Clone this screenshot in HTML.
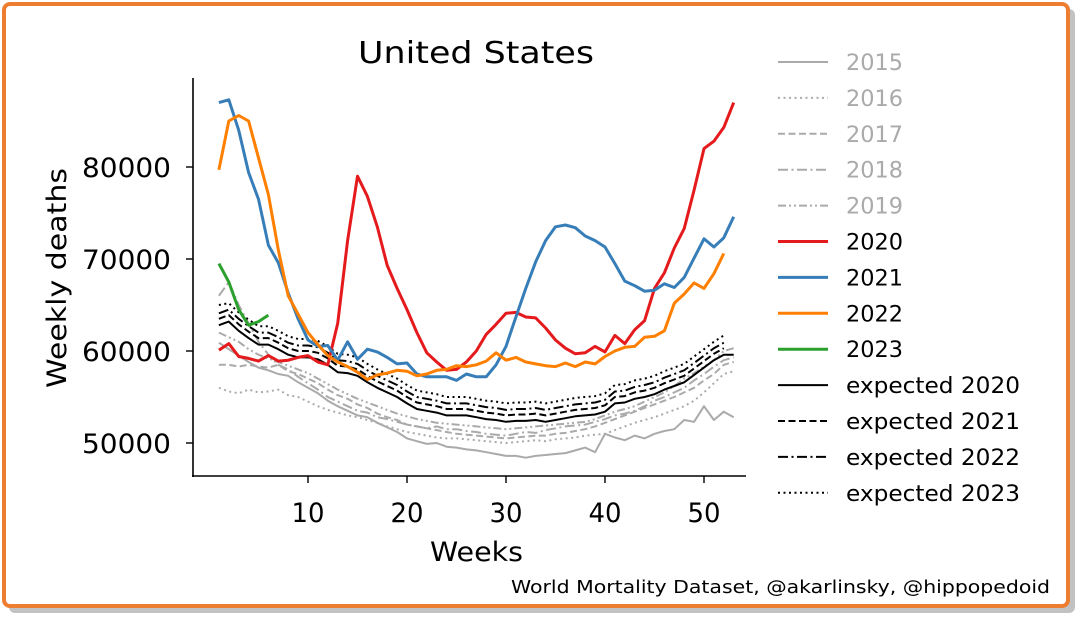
<!DOCTYPE html>
<html><head><meta charset="utf-8"><style>
html,body{margin:0;padding:0;background:#fff;}
body{width:1080px;height:625px;overflow:hidden;font-family:"DejaVu Sans","Liberation Sans",sans-serif;}
svg text{font-family:"DejaVu Sans","Liberation Sans",sans-serif;}
</style></head><body>
<svg id="chart" width="1080" height="625" xmlns="http://www.w3.org/2000/svg">
<rect x="9" y="9" width="1066" height="604" rx="6" fill="#9a9a9a" opacity="0.6"/>
<rect x="4" y="4" width="1064" height="602" rx="6" fill="#fff" stroke="#ed7d31" stroke-width="4"/>
<text x="358" y="63" font-size="30" textLength="236" lengthAdjust="spacingAndGlyphs" fill="#000">United States</text>
<text transform="translate(66,388) rotate(-90)" font-size="27" textLength="220" lengthAdjust="spacingAndGlyphs" fill="#000">Weekly deaths</text>
<text x="430" y="561" font-size="27" textLength="93" lengthAdjust="spacingAndGlyphs" fill="#000">Weeks</text>
<text x="511" y="593" font-size="18" textLength="539" lengthAdjust="spacingAndGlyphs" fill="#000">World Mortality Dataset, @akarlinsky, @hippopedoid</text>
<g id="plot"></g>
<g id="legend"></g>
</svg>
<script>
const weeks53 = Array.from({length:53},(_,i)=>i+1);
const xTicks = [10,20,30,40,50];
const yTicks = [50000,60000,70000,80000];
const yTickLabels = ["50000","60000","70000","80000"];
const s2015 = [60.9,60.2,59.5,58.8,58.2,57.9,57.5,57.3,56.6,56.0,55.4,54.6,54.0,53.5,53.0,52.8,52.2,51.7,51.2,50.5,50.2,49.9,50.0,49.6,49.5,49.3,49.2,49.0,48.8,48.6,48.6,48.4,48.6,48.7,48.8,48.9,49.2,49.5,49.0,51.0,50.6,50.3,50.8,50.5,51.0,51.3,51.5,52.5,52.3,54.0,52.5,53.4,52.8];
const s2016 = [56.0,55.6,55.4,55.8,55.5,55.6,55.8,55.2,55.0,54.5,54.0,53.6,53.3,53.0,52.8,52.5,52.2,51.8,51.5,51.2,51.0,50.8,50.6,50.5,50.5,50.4,50.3,50.2,50.1,50.0,50.1,50.2,50.3,50.2,50.4,50.5,50.6,50.8,50.9,51.0,51.4,51.8,52.2,52.5,52.8,53.2,53.6,54.0,54.6,55.5,56.5,57.5,57.8];
const s2017 = [58.5,58.5,58.3,58.5,58.3,58.2,58.5,57.8,57.5,57.0,56.5,55.8,55.2,54.8,54.2,53.8,53.2,52.8,52.5,52.0,51.8,51.6,51.4,51.2,51.0,50.9,50.8,50.7,50.6,50.5,50.6,50.7,50.8,50.8,51.0,51.1,51.3,51.5,51.8,52.2,52.6,53.0,53.4,53.8,54.2,54.6,55.0,55.5,56.0,56.8,57.5,58.5,58.8];
const s2018 = [66.0,67.5,65.0,63.0,61.0,59.6,58.5,58.0,57.2,56.5,55.8,55.0,54.5,54.0,53.5,53.3,52.8,52.6,52.3,52.0,51.8,51.6,51.8,51.5,51.5,51.3,51.2,51.0,50.9,50.8,51.0,51.2,51.1,51.4,51.6,51.8,51.9,52.0,52.3,52.6,53.0,53.2,53.5,54.0,54.6,55.0,55.5,56.0,56.8,57.5,58.3,59.0,59.3];
const s2019 = [62.0,61.5,61.0,60.2,59.6,59.2,58.8,58.4,58.0,57.6,57.0,56.4,55.8,55.3,54.8,54.4,54.0,53.6,53.2,52.9,52.6,52.4,52.2,52.1,52.0,51.9,51.8,51.7,51.6,51.5,51.6,51.7,51.8,51.9,52.0,52.1,52.2,52.3,52.6,53.0,53.4,53.7,54.0,54.5,55.0,55.5,56.2,57.0,57.6,58.3,59.0,60.0,60.3];
const s2020 = [60.1,60.8,59.4,59.2,58.9,59.5,58.9,59.0,59.3,59.5,58.8,58.5,63.0,72.0,79.0,76.8,73.5,69.3,66.8,64.5,62.0,59.8,58.8,57.9,58.0,58.8,60.0,61.8,62.9,64.1,64.2,63.7,63.6,62.5,61.2,60.3,59.7,59.8,60.5,59.9,61.7,60.8,62.3,63.3,66.8,68.5,71.2,73.3,77.5,82.0,82.8,84.3,87.0];
const s2021 = [87.0,87.3,84.0,79.4,76.5,71.5,69.6,66.3,63.5,61.2,60.5,60.6,59.0,61.0,59.1,60.2,59.9,59.3,58.6,58.7,57.5,57.2,57.2,57.2,56.8,57.5,57.2,57.2,58.5,60.5,63.7,66.8,69.7,72.0,73.5,73.7,73.4,72.5,72.0,71.3,69.5,67.6,67.1,66.5,66.6,67.3,66.9,68.0,70.1,72.2,71.3,72.3,74.6];
const s2022 = [79.7,85.0,85.6,85.0,81.0,77.0,71.0,66.0,64.0,62.0,60.7,59.5,58.8,58.3,57.7,56.9,57.4,57.6,57.9,57.8,57.3,57.5,57.9,58.0,58.4,58.3,58.5,58.9,59.8,59.0,59.3,58.8,58.6,58.4,58.3,58.7,58.3,58.8,58.6,59.4,60.0,60.4,60.5,61.5,61.6,62.2,65.2,66.2,67.4,66.8,68.4,70.6];
const s2023 = [69.5,67.5,64.5,62.8,63.2,63.9];
const e2020 = [62.8,63.2,62.2,61.4,60.7,60.7,60.2,59.6,59.3,59.3,59.1,58.5,57.7,57.6,57.3,56.6,56.0,55.5,55.0,54.3,53.7,53.5,53.3,53.0,53.0,53.0,52.8,52.6,52.5,52.3,52.4,52.4,52.5,52.3,52.5,52.7,52.9,53.0,53.1,53.4,54.3,54.4,54.8,55.0,55.3,55.8,56.2,56.6,57.4,58.2,59.0,59.6,59.6];
const e2021 = [63.5,63.9,62.9,62.1,61.4,61.4,60.9,60.3,60.0,60.0,59.8,59.2,58.4,58.3,58.0,57.3,56.7,56.2,55.7,55.0,54.4,54.2,54.0,53.7,53.7,53.7,53.5,53.3,53.2,53.0,53.1,53.1,53.2,53.0,53.2,53.4,53.6,53.7,53.8,54.1,55.0,55.1,55.5,55.7,56.0,56.5,56.9,57.3,58.1,58.9,59.7,60.3];
const e2022 = [64.1,64.5,63.5,62.7,62.0,62.0,61.5,60.9,60.6,60.6,60.4,59.8,59.0,58.9,58.6,57.9,57.3,56.8,56.3,55.6,55.0,54.8,54.6,54.3,54.3,54.3,54.1,53.9,53.8,53.6,53.7,53.7,53.8,53.6,53.8,54.0,54.2,54.3,54.4,54.7,55.6,55.7,56.1,56.3,56.6,57.1,57.5,57.9,58.7,59.5,60.3,60.9];
const e2023 = [65.0,65.2,64.2,63.4,62.7,62.7,62.2,61.6,61.3,61.3,61.1,60.5,59.7,59.6,59.3,58.6,58.0,57.5,57.0,56.3,55.7,55.5,55.3,55.0,55.0,55.0,54.8,54.6,54.5,54.3,54.4,54.4,54.5,54.3,54.5,54.7,54.9,55.0,55.1,55.4,56.3,56.4,56.8,57.0,57.3,57.8,58.2,58.6,59.4,60.2,61.0,61.7];

const NS="http://www.w3.org/2000/svg";
const xS = w => 209 + w*9.9;
const yS = v => 443 - (v-50000)*0.0092;
const plot=document.getElementById('plot');
const legend=document.getElementById('legend');
function mk(tag,attrs,parent){const e=document.createElementNS(NS,tag);for(const k in attrs)e.setAttribute(k,attrs[k]);parent.appendChild(e);return e;}

const yAxis=mk('line',{x1:193,y1:78,x2:193,y2:477,stroke:'#000','stroke-width':1.6},plot);


const xAxis=mk('line',{x1:192,y1:476,x2:746,y2:476,stroke:'#000','stroke-width':1.6},plot);


xTicks.forEach(t=>{
  const tk=mk('line',{x1:xS(t),y1:476,x2:xS(t),y2:483,stroke:'#000','stroke-width':1.4},plot);
  
  
  const tl=mk('text',{x:xS(t)-16.5,y:522,'font-size':27,textLength:33,lengthAdjust:'spacingAndGlyphs',fill:'#000'},plot);
  tl.textContent=t;
  
  
});
yTicks.forEach((t,i)=>{
  const tk=mk('line',{x1:186,y1:yS(t),x2:193,y2:yS(t),stroke:'#000','stroke-width':1.4},plot);
  
  
  const tl=mk('text',{x:82,y:yS(t)+10,'font-size':27,textLength:89,lengthAdjust:'spacingAndGlyphs',fill:'#000'},plot);
  tl.textContent=yTickLabels[i];
  
  
});

const series=[
 {n:'2015',d:s2015,c:'#aaaaaa',w:2,da:'',tc:'#aaaaaa'},
 {n:'2016',d:s2016,c:'#aaaaaa',w:2,da:'2,3.5',tc:'#aaaaaa'},
 {n:'2017',d:s2017,c:'#aaaaaa',w:2,da:'7,3.5',tc:'#aaaaaa'},
 {n:'2018',d:s2018,c:'#aaaaaa',w:2,da:'10,3.5,2,3.5',tc:'#aaaaaa'},
 {n:'2019',d:s2019,c:'#aaaaaa',w:2,da:'8,3,2,3,2,3',tc:'#aaaaaa'},
 {n:'expected 2020',d:e2020,c:'#000',w:2,da:'',tc:'#000',leg:9},
 {n:'expected 2021',d:e2021,c:'#000',w:2,da:'7,3.5',tc:'#000',leg:10},
 {n:'expected 2022',d:e2022,c:'#000',w:2,da:'10,3.5,2,3.5',tc:'#000',leg:11},
 {n:'expected 2023',d:e2023,c:'#000',w:2,da:'2,3.5',tc:'#000',leg:12},
 {n:'2020',d:s2020,c:'#e41a1c',w:3,da:'',tc:'#000',leg:5},
 {n:'2021',d:s2021,c:'#377eb8',w:3,da:'',tc:'#000',leg:6},
 {n:'2022',d:s2022,c:'#ff7f00',w:3,da:'',tc:'#000',leg:7},
 {n:'2023',d:s2023,c:'#2ca02c',w:3,da:'',tc:'#000',leg:8},
];
series.forEach((s,i)=>{
  const pts=s.d.map((v,j)=>xS(weeks53[j]).toFixed(1)+','+yS(v*1000).toFixed(1)).join(' ');
  const p=mk('polyline',{points:pts,fill:'none',stroke:s.c,'stroke-width':s.w,'stroke-dasharray':s.da,'stroke-linejoin':'round'},plot);
  
  
  const row=(s.leg!==undefined)?s.leg:i;
  const ly=62+row*35.9;
  const ll=mk('line',{x1:778,y1:ly,x2:828,y2:ly,stroke:s.c,'stroke-width':s.w,'stroke-dasharray':s.da},legend);
  
  
  const tw = s.n.length>4 ? 174 : 57;
  const lt=mk('text',{x:846,y:ly+8,'font-size':22,textLength:tw,lengthAdjust:'spacingAndGlyphs',fill:s.tc},legend);
  lt.textContent=s.n;
  
  
});
</script>
</body></html>
